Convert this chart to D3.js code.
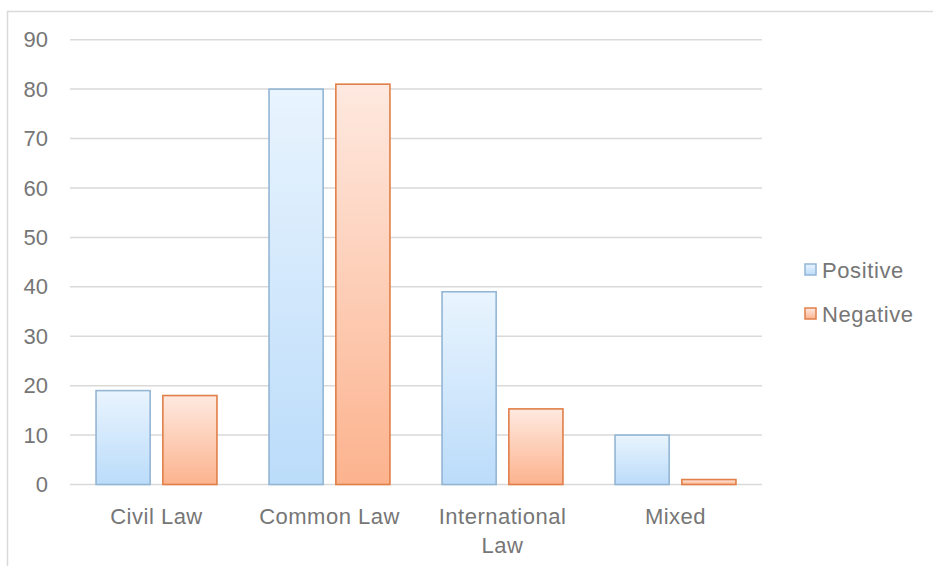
<!DOCTYPE html>
<html>
<head>
<meta charset="utf-8">
<script src="https://cdn.jsdelivr.net/npm/d3@7"></script>
<style>
  html, body { margin: 0; padding: 0; background: #fff; }
  svg { display: block; font-family: "Liberation Sans", Arial, Helvetica, sans-serif; }
</style>
</head>
<body>
<svg id="chart" width="933" height="566"></svg>
<script>
// Chart data
const categories = ["Civil Law", "Common Law", "International Law", "Mixed"];
const categoryLines = [["Civil Law"], ["Common Law"], ["International", "Law"], ["Mixed"]];
const seriesNames = ["Positive", "Negative"];
const positiveValues = [19, 80, 39, 10];
const negativeValues = [18, 81, 15.3, 1];
const yTicks = [0, 10, 20, 30, 40, 50, 60, 70, 80, 90];

const svg = d3.select("#chart");
const plot = { left: 70, right: 762, top: 39.7, bottom: 484.5 };
const textColor = "#767676";

// Outer frame
svg.append("rect")
  .attr("x", 7.5).attr("y", 11.5)
  .attr("width", 940).attr("height", 570)
  .attr("fill", "none").attr("stroke", "#d9d9d9").attr("stroke-width", 1.5);

// Gradients for bar fills
const defs = svg.append("defs");
const gradients = [
  { id: "gPos", top: "#e9f4fe", bottom: "#bbdcfa" },
  { id: "gNeg", top: "#fee9e0", bottom: "#fcb38e" }
];
gradients.forEach(g => {
  const lg = defs.append("linearGradient").attr("id", g.id)
    .attr("x1", 0).attr("y1", 0).attr("x2", 0).attr("y2", 1);
  lg.append("stop").attr("offset", "0%").attr("stop-color", g.top);
  lg.append("stop").attr("offset", "100%").attr("stop-color", g.bottom);
});
const fills = ["url(#gPos)", "url(#gNeg)"];
const strokes = ["#93b6d4", "#e07f48"];

const x = d3.scaleBand().domain(categories).range([plot.left, plot.right]);
const xInner = d3.scaleBand().domain(seriesNames).range([0, x.bandwidth()])
  .paddingInner(0.19).paddingOuter(0.39);
const y = d3.scaleLinear().domain([0, 90]).range([plot.bottom, plot.top]);

// Gridlines
svg.append("g")
  .selectAll("line").data(yTicks).join("line")
  .attr("x1", plot.left).attr("x2", plot.right)
  .attr("y1", d => y(d)).attr("y2", d => y(d))
  .attr("stroke", "#d9d9d9").attr("stroke-width", 1.5);

// Y axis labels
const yAxis = d3.axisLeft(y).tickValues(yTicks).tickSize(0).tickPadding(0);
const yg = svg.append("g").attr("transform", "translate(48,0)").call(yAxis);
yg.select(".domain").remove();
yg.attr("font-size", null).attr("font-family", null);
yg.selectAll("text").attr("fill", textColor)
  .style("font-size", "22px")
  .style("font-family", "'Liberation Sans', Arial, sans-serif");

// Bars
const rows = categories.map((c, i) => ({ cat: c, values: [positiveValues[i], negativeValues[i]] }));
const groups = svg.append("g").selectAll("g").data(rows).join("g")
  .attr("transform", d => `translate(${x(d.cat)},0)`);
groups.selectAll("rect")
  .data(d => d.values.map((v, k) => ({ series: seriesNames[k], k, v })))
  .join("rect")
  .attr("x", d => xInner(d.series))
  .attr("width", xInner.bandwidth())
  .attr("y", d => y(d.v))
  .attr("height", d => y(0) - y(d.v))
  .attr("fill", d => fills[d.k])
  .attr("stroke", d => strokes[d.k])
  .attr("stroke-width", 1.6);

// Category labels
const xl = svg.append("g").selectAll("text").data(categories).join("text")
  .attr("x", d => x(d) + x.bandwidth() / 2)
  .attr("y", 524)
  .attr("text-anchor", "middle")
  .attr("letter-spacing", 0.5)
  .attr("fill", textColor).attr("font-size", 22);
xl.each(function(d, i) {
  d3.select(this).selectAll("tspan").data(categoryLines[i]).join("tspan")
    .attr("x", x(d) + x.bandwidth() / 2)
    .attr("dy", (t, j) => j === 0 ? 0 : 29)
    .text(t => t);
});

// Legend
const legend = svg.append("g").selectAll("g").data(seriesNames).join("g")
  .attr("transform", (d, i) => `translate(805,${264 + i * 44})`);
legend.append("rect")
  .attr("width", 11).attr("height", 11)
  .attr("fill", (d, i) => fills[i]).attr("stroke", (d, i) => strokes[i]).attr("stroke-width", 1.5);
legend.append("text")
  .attr("x", 17).attr("y", 13.5)
  .attr("letter-spacing", 0.6)
  .attr("fill", textColor).attr("font-size", 22)
  .text(d => d);
</script>
</body>
</html>
